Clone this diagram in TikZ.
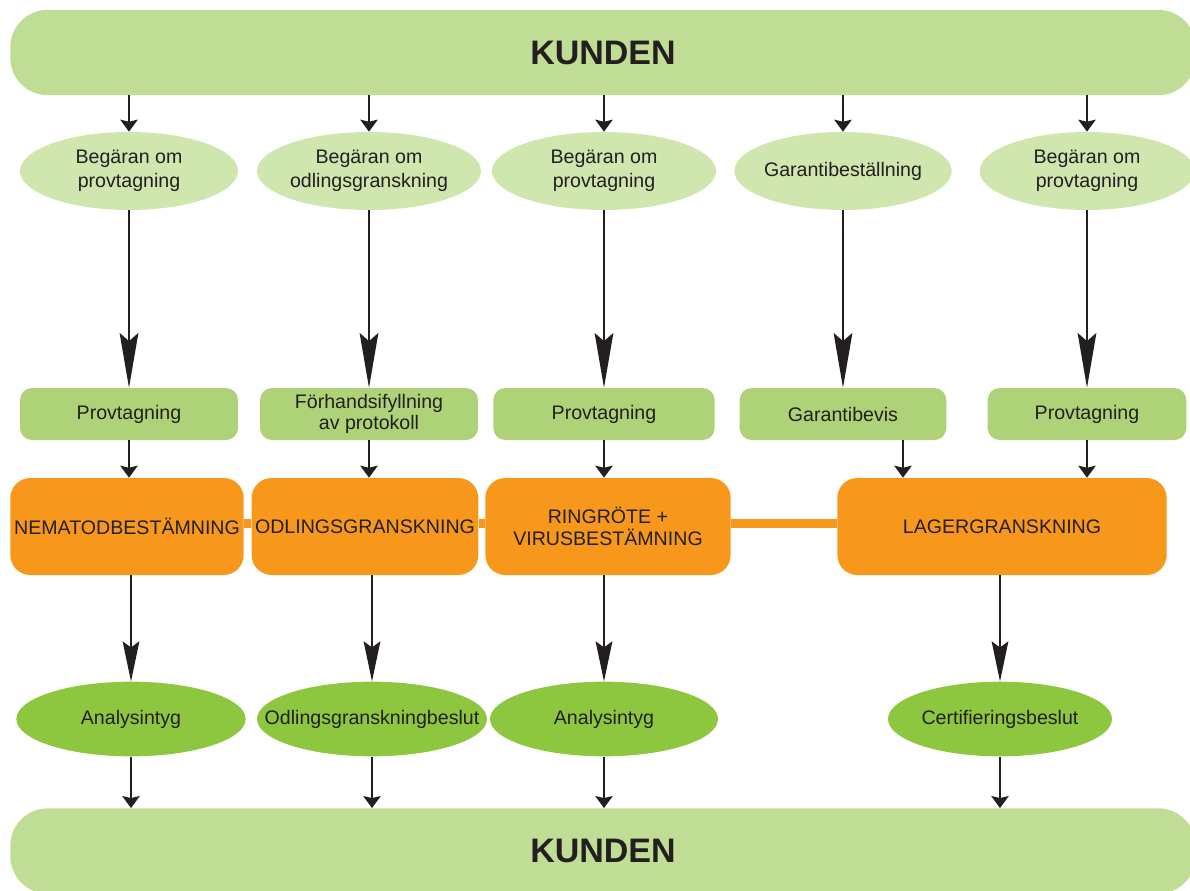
\documentclass[tikz,border=0pt]{standalone}
\usepackage{fontspec}
\setmainfont{Liberation Sans}
\usetikzlibrary{shapes.geometric,arrows.meta}

\definecolor{kundgreen}{RGB}{192,221,150}
\definecolor{askgreen}{RGB}{207,230,174}
\definecolor{stepgreen}{RGB}{173,210,119}
\definecolor{checkorange}{RGB}{247,152,29}
\definecolor{resultgreen}{RGB}{141,198,63}
\definecolor{textgray}{RGB}{35,31,32}

\begin{document}
\begin{tikzpicture}[x=0.75pt,y=0.75pt,yscale=-1,xscale=1,
    font=\fontsize{14.7}{18}\selectfont, text=textgray,
    kundbar/.style={fill=kundgreen, rounded corners=28pt, minimum height=64pt, font=\fontsize{25.5}{30}\selectfont\bfseries},
    askell/.style={ellipse, fill=askgreen, inner xsep=-30pt, inner ysep=0pt, minimum height=58.5pt, align=center},
    stepbox/.style={fill=stepgreen, rounded corners=9pt, minimum height=39pt, align=center, font=\fontsize{14.7}{15.5}\selectfont},
    checkbox/.style={fill=checkorange, rounded corners=15pt, minimum height=72.75pt, inner sep=1pt, align=center, font=\fontsize{14.7}{16}\selectfont},
    resell/.style={ellipse, fill=resultgreen, inner xsep=-30pt, inner ysep=0pt, minimum height=56pt},
    sarr/.style={-{Stealth[length=9pt,width=13pt,inset=1.5pt]}, line width=1.5pt, draw=textgray},
    barr/.style={-{Stealth[length=41pt,width=14pt,inset=6pt]}, line width=1.5pt, draw=textgray},
    barrshort/.style={-{Stealth[length=30pt,width=12.5pt,inset=4.5pt]}, line width=1.5pt, draw=textgray},
    orlink/.style={draw=checkorange, line width=6.75pt}]
    \useasboundingbox (0,0) rectangle (1190,890);

    %Bars: the customer
    \node[kundbar, minimum width=889pt] (kunde1) at (603,52.5) {KUNDEN};
    \node[kundbar, minimum width=889pt] (kunde2) at (603,851) {KUNDEN};

    %Requests
    \node[askell, minimum width=163.5pt] (beg1) at (129,171) {Begäran om\\provtagning};
    \node[askell, minimum width=168pt] (beg2) at (369,171) {Begäran om\\odlingsgranskning};
    \node[askell, minimum width=168pt] (beg3) at (604,171) {Begäran om\\provtagning};
    \node[askell, minimum width=163pt] (gar) at (843,171) {Garantibeställning};
    \node[askell, minimum width=161pt] (beg5) at (1087,171) {Begäran om\\provtagning};

    %Steps
    \node[stepbox, minimum width=163.5pt] (prov1) at (129,414) {Provtagning};
    \node[stepbox, minimum width=163.5pt] (forh) at (369,414) {Förhandsifyllning\\av protokoll};
    \node[stepbox, minimum width=166pt] (prov3) at (604,414) {Provtagning};
    \node[stepbox, minimum width=155pt] (garb) at (843,414) {Garantibevis};
    \node[stepbox, minimum width=149pt] (prov5) at (1087,414) {Provtagning};

    %Checks
    \node[checkbox, minimum width=175pt] (nem) at (127,526.5) {NEMATODBESTÄMNING};
    \node[checkbox, minimum width=170pt] (odl) at (365,526.5) {ODLINGSGRANSKNING};
    \node[checkbox, minimum width=184pt] (ring) at (608,526.5) {RINGRÖTE +\\VIRUSBESTÄMNING};
    \node[checkbox, minimum width=247pt] (lager) at (1002,526.5) {LAGERGRANSKNING};
    \draw[orlink] ([yshift=-2.5pt]nem.east) -- ([yshift=-2.5pt]odl.west);
    \draw[orlink] ([yshift=-2.5pt]odl.east) -- ([yshift=-2.5pt]ring.west);
    \draw[orlink] ([yshift=-2.5pt]ring.east) -- ([yshift=-2.5pt]lager.west);

    %Results
    \node[resell, minimum width=172pt] (ana1) at (131,719) {Analysintyg};
    \node[resell, minimum width=172.5pt] (odlb) at (372,719) {Odlingsgranskningbeslut};
    \node[resell, minimum width=171pt] (ana3) at (604,719) {Analysintyg};
    \node[resell, minimum width=168pt] (cert) at (1000,719) {Certifieringsbeslut};

    %Arrows
    \foreach \n in {beg1,beg2,beg3,gar,beg5}
        \draw[sarr] (kunde1.south -| \n) -- (\n);
    \draw[barr] (beg1) -- (prov1);
    \draw[barr] (beg2) -- (forh);
    \draw[barr] (beg3) -- (prov3);
    \draw[barr] (gar) -- (garb);
    \draw[barr] (beg5) -- (prov5);
    \draw[sarr] (prov1) -- (prov1 |- nem.north);
    \draw[sarr] (forh) -- (forh |- odl.north);
    \draw[sarr] (prov3) -- (prov3 |- ring.north);
    \draw[sarr] ([xshift=45pt]garb.south) -- ([xshift=45pt]garb.south |- lager.north);
    \draw[sarr] (prov5) -- (prov5 |- lager.north);
    \draw[barrshort] (nem.south -| ana1) -- (ana1);
    \draw[barrshort] (odl.south -| odlb) -- (odlb);
    \draw[barrshort] (ring.south -| ana3) -- (ana3);
    \draw[barrshort] (lager.south -| cert) -- (cert);
    \foreach \n in {ana1,odlb,ana3,cert}
        \draw[sarr] (\n) -- (\n |- kunde2.north);
\end{tikzpicture}
\end{document}
